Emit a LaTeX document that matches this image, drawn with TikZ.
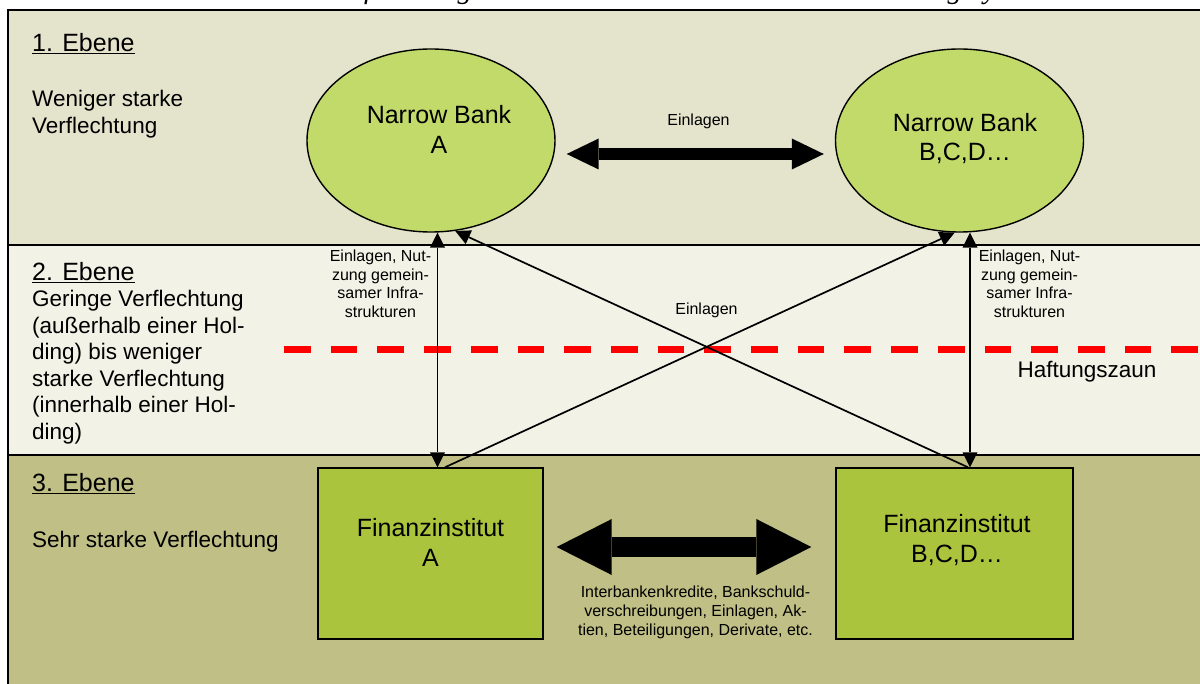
\documentclass[tikz,border=0pt]{standalone}
\usepackage{fontspec}
\setmainfont{Liberation Sans}
\newfontfamily\captionserif{Liberation Serif}
\usetikzlibrary{shapes.geometric,arrows.meta}

\definecolor{levelone}{RGB}{228,228,205}
\definecolor{leveltwo}{RGB}{242,242,230}
\definecolor{levelthree}{RGB}{192,191,133}
\definecolor{bankgreen}{RGB}{194,218,106}
\definecolor{instgreen}{RGB}{170,196,62}
\definecolor{fencered}{RGB}{255,0,0}

\begin{document}
\begin{tikzpicture}[x=1pt,y=-1pt,
  bank/.style={ellipse, draw=black, line width=1.4pt, fill=bankgreen,
    minimum width=248pt, minimum height=183pt, inner sep=0pt},
  inst/.style={rectangle, draw=black, line width=1.4pt, fill=instgreen,
    minimum height=171pt, inner sep=0pt},
  % multi-line nodes: the base anchor sits on the last line
  nametext/.style={font=\fontsize{25}{29.3}\selectfont, align=center, inner sep=0pt, anchor=base},
  levelhead/.style={font=\fontsize{25}{29}\selectfont, inner sep=0pt, anchor=base west},
  leveltext/.style={font=\fontsize{22.5}{26.6}\selectfont, align=left, inner sep=0pt, anchor=base west},
  flowtext/.style={font=\fontsize{16}{18.6}\selectfont, align=center, inner sep=0pt, anchor=base},
  link/.style={draw=black, line width=1.7pt, >={Triangle[width=15pt,length=15pt,line width=0pt]}},
  bankflow/.style={draw=black, line width=11.5pt, >={Triangle[width=31pt,length=32pt,line width=0pt]}},
  instflow/.style={draw=black, line width=20pt, >={Triangle[width=56pt,length=55pt,line width=0pt]}},
  bandrule/.style={draw=black, line width=2pt},
]
\useasboundingbox (0,0) rectangle (1200,684);
\clip (0,0) rectangle (1200,684);

% the three levels
\fill[levelone] (8,10) rectangle (1200,245);
\fill[leveltwo] (8,245) rectangle (1200,455);
\fill[levelthree] (8,455) rectangle (1200,684);
\draw[bandrule, line width=2.6pt] (7,10) -- (1200,10);
\draw[bandrule] (8,245) -- (1200,245);
\draw[bandrule] (8,455) -- (1200,455);
\draw[bandrule] (8,9) -- (8,684);

% caption line, cut at the top edge
\begin{scope}
  \clip (0,0) rectangle (1200,8.5);
  \node[font=\captionserif\itshape\fontsize{29}{33}\selectfont, inner sep=0pt, anchor=base]
    (caption) at (616,-1) {Schema der Verflechtungsstruktur in einem reinen Narrow Banking System};
\end{scope}

% level descriptions
\node[levelhead] (lvlone) at (32,52) {\underline{1. Ebene}};
\node[leveltext] (lvlonetxt) at (32,133.5) {Weniger starke\\Verflechtung};
\node[levelhead] (lvltwo) at (32,281) {\underline{2. Ebene}};
\node[leveltext] (lvltwotxt) at (32,439.5) {Geringe Verflechtung\\(außerhalb einer Hol-\\ding) bis weniger\\starke Verflechtung\\(innerhalb einer Hol-\\ding)};
\node[levelhead] (lvlthree) at (32,492) {\underline{3. Ebene}};
\node[leveltext] (lvlthreetxt) at (32,547) {Sehr starke Verflechtung};

% liability fence
\coordinate (fenceL) at (284,350);
\coordinate (fenceR) at (1200,350);
\draw[fencered, line width=7pt, dash pattern=on 26.7pt off 20pt] (fenceL) -- (fenceR);
\node[font=\fontsize{22.5}{26}\selectfont, inner sep=0pt, anchor=base] (fence) at (1087,377.7) {Haftungszaun};

% narrow banks
\node[bank] (nbA) at (431,140.5) {};
\node[bank] (nbB) at (959.5,140.5) {};
\node[nametext] (nbAname) at (439,153.3) {Narrow Bank\\A};
\node[nametext] (nbBname) at (965,160.7) {Narrow Bank\\B,C,D…};

% financial institutions
\node[inst, minimum width=225pt] (fiA) at (430.5,553.5) {};
\node[inst, minimum width=237pt] (fiB) at (954.5,553.5) {};
\node[nametext] (fiAname) at (430.5,566) {Finanzinstitut\\A};
\node[nametext] (fiBname) at (957,562) {Finanzinstitut\\B,C,D…};

% links between the levels
\draw[link,<->] ([xshift=6.5pt]nbA.south) -- ([xshift=7pt]fiA.north);
\draw[link,<->] ([xshift=10.5pt]nbB.south) -- ([xshift=15.5pt]fiB.north);
\draw[link,->] ([xshift=13.5pt]fiB.north) -- (nbA.-75);
\draw[link,->] ([xshift=14.5pt]fiA.north) -- (nbB.-93);

% links within a level
\draw[bankflow,<->] ([shift={(11,13.5)}]nbA.east) -- ([shift={(-11,13.5)}]nbB.west);
\draw[instflow,<->] ([shift={(13,-6.5)}]fiA.east) -- ([shift={(-24,-6.5)}]fiB.west);

% link labels
\node[flowtext] (lbltop) at (698.5,125.7) {Einlagen};
\node[flowtext] (lblleft) at (380.5,317.3) {Einlagen, Nut-\\zung gemein-\\samer Infra-\\strukturen};
\node[flowtext] (lblright) at (1029.5,317.3) {Einlagen, Nut-\\zung gemein-\\samer Infra-\\strukturen};
\node[flowtext] (lblcross) at (706.5,315) {Einlagen};
\node[flowtext] (lblinst) at (695.5,635) {Interbankenkredite, Bankschuld-\\verschreibungen, Einlagen, Ak-\\tien, Beteiligungen, Derivate, etc.};
\end{tikzpicture}
\end{document}
